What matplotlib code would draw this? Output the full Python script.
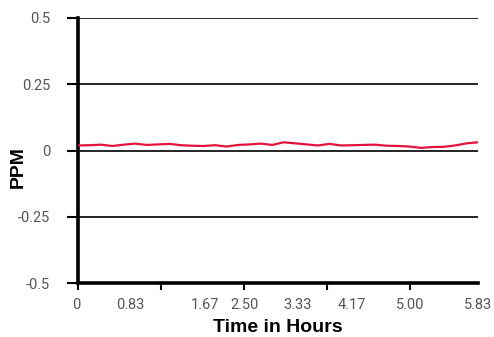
import matplotlib
matplotlib.use("Agg")
import matplotlib.pyplot as plt
import matplotlib.transforms as mtransforms
import numpy as np

# Data (10-minute samples over 5.83 hours)
minutes = list(range(0, 351, 10))
ppm = [0.019, 0.020, 0.022, 0.017, 0.022, 0.026, 0.021, 0.023, 0.025, 0.020,
       0.018, 0.017, 0.020, 0.015, 0.021, 0.023, 0.026, 0.021, 0.031, 0.027,
       0.023, 0.019, 0.025, 0.019, 0.020, 0.021, 0.022, 0.018, 0.017, 0.015,
       0.010, 0.013, 0.014, 0.019, 0.027, 0.031]
hours = [m / 60 for m in minutes]

y_ticks = [-0.5, -0.25, 0, 0.25, 0.5]
y_tick_labels = ["-0.5", "-0.25", "0", "0.25", "0.5"]
x_tick_marks = [0, 1.21, 2.42, 3.63, 4.84]
x_labels = ["0", "0.83", "1.67", "2.50", "3.33", "4.17", "5.00", "5.83"]
x_label_pos = [-0.005, 0.13, 0.3175, 0.415, 0.55, 0.685, 0.83, 1.0]

fig = plt.figure(figsize=(4.94, 3.37), dpi=100)
ax = fig.add_axes([0.158, 0.1602, 0.8096, 0.7864])

ax.plot(hours, ppm, color="#E2133C", lw=1.6, zorder=3)

ax.set_xlim(0, 350 / 60)
ax.set_ylim(-0.5, 0.5)

for y in [-0.25, 0, 0.25, 0.5]:
    ax.axhline(y, color="black", lw=1.2, zorder=2)

tick_color = "#555555"
ax.set_yticks(y_ticks)
ax.set_yticklabels(y_tick_labels, fontsize=10.5, color=tick_color,
                   family="Roboto")
ax.tick_params(axis="y", length=8, width=1.5, pad=12, colors="black",
               labelcolor=tick_color)

ax.set_xticks(x_tick_marks)
ax.set_xticklabels([])
ax.tick_params(axis="x", length=5, width=1.5, direction="out")

trans = mtransforms.blended_transform_factory(ax.transAxes, fig.transFigure)
for lab, pos in zip(x_labels, x_label_pos):
    ax.text(pos, 1 - 305 / 337, lab, transform=trans, ha="center", va="center",
            fontsize=10.5, color=tick_color, family="Roboto")

for s in ["top", "right"]:
    ax.spines[s].set_visible(False)
ax.spines["left"].set_linewidth(2.6)
ax.spines["bottom"].set_linewidth(2.6)

fig.text(278 / 494, 1 - 328 / 337, "Time in Hours", ha="center", va="center",
         fontsize=14, fontweight="bold", family="Liberation Sans")
fig.text(18 / 494, 1 - 167 / 337, "PPM", ha="center", va="center", rotation=90,
         fontsize=14, fontweight="bold", family="Liberation Sans")

fig.savefig("out.png", dpi=100)
